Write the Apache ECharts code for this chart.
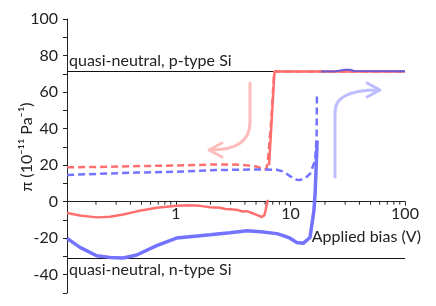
<!DOCTYPE html>
<html>
<head>
<meta charset="utf-8">
<script src="https://cdn.jsdelivr.net/npm/echarts@6/dist/echarts.min.js"></script>
<style>html,body{margin:0;padding:0;background:#fff}#c{width:436px;height:306px}</style>
</head>
<body>
<div id="c"></div>
<script>
// Data (Applied bias in V, pi in 1e-11 Pa^-1)
const redSolid = [[0.112,-6.2],[0.145,-7.6],[0.203,-8.6],[0.265,-8.3],[0.346,-7.0],[0.454,-5.3],[0.678,-3.3],[1.01,-2.2],[1.3,-2.0],[1.62,-2.3],[1.98,-3.0],[2.42,-3.3],[2.7,-4.0],[2.96,-4.2],[3.5,-4.6],[3.8,-5.4],[4.15,-5.2],[4.6,-6.2],[5.07,-7.2],[5.6,-8.4],[5.9,-7.5],[6.05,-5.0],[6.2,-1.5],[6.35,1.0],[6.4,'-'],[6.5,20],[6.9,48],[7.25,71.2],[100,71.2]];
const redDashed = [[0.112,18.8],[0.2,19.0],[0.5,19.5],[1.01,19.8],[2.0,20.3],[2.96,20.4],[4.0,20.0],[5.07,19.2],[5.5,18.4],[5.75,17.8],[6.15,17.8],[6.35,22.5],[6.8,45],[7.2,71.2],[100,71.2]];
const blueDashed = [[0.112,14.6],[0.203,15.2],[0.454,15.9],[1.01,16.4],[2.0,17.2],[2.96,17.4],[5.0,17.6],[7.58,17.5],[8.65,16.5],[9.91,14.0],[11.3,12.0],[12.1,11.8],[13.5,13.0],[14.8,15.2],[16.4,22.5],[16.9,35],[17.0,58]];
const blueSolid = [[0.112,-20.1],[0.145,-25.0],[0.203,-29.6],[0.265,-30.5],[0.346,-30.8],[0.454,-29.2],[0.678,-24.1],[1.01,-19.9],[1.62,-18.6],[1.98,-18.1],[2.96,-17.0],[4.15,-15.9],[5.5,-16.5],[7.58,-17.5],[8.65,-18.6],[9.91,-20.0],[11.3,-22.3],[12.9,-22.8],[14.8,-19.6],[16.0,-5.0],[16.4,4.4],[17.1,33.4]];
const blueTop = [[18.5,71.3],[25,71.4],[30,72.2],[33,72.2],[36,71.5],[100,71.4]];
const pTypeLevel = 71.2;
const nTypeLevel = -31.2;
const xMajorLabels = [1, 10, 100];
const xMinorTicks = [0.2,0.3,0.4,0.5,0.6,0.7,0.8,0.9,2,3,4,5,6,7,8,9,20,30,40,50,60,70,80,90];
const yLabelValues = [-40,-20,0,20,40,60,80,100];

const FONT = 'Lato';
const RED = '#ff6f6f';
const BLUE = '#7373ff';
const Y_MIN = -50, Y_MAX = 100;
const GRID = {left: 67, right: 31, top: 19, bottom: 13};
const plotH = 306 - GRID.top - GRID.bottom;
// x axis crosses the y axis at value 0: shift it up from the grid bottom
const xAxisOffset = -plotH * (0 - Y_MIN) / (Y_MAX - Y_MIN);

const chart = echarts.init(document.getElementById('c'), null, {renderer:'canvas'});
chart.setOption({
  animation: false,
  backgroundColor: '#fff',
  textStyle: {fontFamily: FONT},
  grid: Object.assign({containLabel: false, outerBoundsMode: 'none'}, GRID),
  xAxis: {
    type: 'log', logBase: 10, min: 0.1117, max: 100,
    position: 'bottom', offset: xAxisOffset,
    axisLine: {onZero: false, lineStyle: {color: '#222', width: 1}},
    axisTick: {show: true, inside: false, length: 4, lineStyle: {color: '#222'}},
    splitLine: {show: false},
    axisLabel: {
      fontFamily: FONT, fontSize: 16, color: '#222', margin: 4,
      formatter: v => { const r = Math.round(v * 1000) / 1000; return xMajorLabels.indexOf(r) >= 0 ? String(r) : ''; }
    },
    name: 'Applied bias (V)', nameLocation: 'end', nameGap: 16, nameMoveOverlap: false,
    nameTextStyle: {fontFamily: FONT, fontSize: 16, color: '#222', align: 'right', verticalAlign: 'top', padding: [27, 0, 0, 0]}
  },
  yAxis: {
    type: 'value', min: Y_MIN, max: Y_MAX, interval: 10,
    axisLine: {show: true, onZero: false, lineStyle: {color: '#222', width: 1}},
    axisTick: {show: true, inside: false, length: 4, lineStyle: {color: '#222'}},
    splitLine: {show: false},
    axisLabel: {
      fontFamily: FONT, fontSize: 16, color: '#222', margin: 9,
      formatter: v => yLabelValues.indexOf(v) >= 0 ? String(v) : ''
    },
    name: 'π (10⁻¹¹ Pa⁻¹)', nameLocation: 'middle', nameGap: 32, nameRotate: 90, nameMoveOverlap: false,
    nameTextStyle: {fontFamily: FONT, fontSize: 16, color: '#222', padding: [0, 0, 0, 18]}
  },
  series: [
    {
      type: 'line', data: [], silent: true, z: 1,
      markLine: {
        silent: true, symbol: 'none', animation: false, z: 1,
        lineStyle: {color: '#111', width: 1, type: 'solid'},
        label: {show: true, fontFamily: FONT, fontSize: 16, color: '#222', distance: [2, 3]},
        data: [
          {yAxis: pTypeLevel, label: {position: 'insideStartTop', formatter: 'quasi-neutral, p-type Si'}},
          {yAxis: nTypeLevel, label: {position: 'insideStartBottom', formatter: 'quasi-neutral, n-type Si'}}
        ]
      }
    },
    {
      type: 'custom', silent: true, z: 2, clip: false,
      data: xMinorTicks.map(v => [v, 0]),
      renderItem: (params, api) => {
        const p = api.coord([api.value(0), 0]);
        return {type: 'line', shape: {x1: p[0], y1: p[1], x2: p[0], y2: p[1] + 3}, style: {stroke: '#222', lineWidth: 1}};
      }
    },
    {type: 'line', name: 'red dashed', data: redDashed, showSymbol: false, connectNulls: false, z: 3,
     lineStyle: {color: RED, width: 2.5, type: [7, 4]}},
    {type: 'line', name: 'blue dashed', data: blueDashed, showSymbol: false, connectNulls: false, z: 3,
     lineStyle: {color: BLUE, width: 2.5, type: [7, 4]}},
    {type: 'line', name: 'red solid', data: redSolid, showSymbol: false, connectNulls: false, z: 4,
     lineStyle: {color: RED, width: 2.5}},
    {type: 'line', name: 'blue solid', data: blueSolid, showSymbol: false, connectNulls: false, z: 5,
     lineStyle: {color: BLUE, width: 3.5}},
    {type: 'line', name: 'blue top', data: blueTop, showSymbol: false, z: 5,
     lineStyle: {color: '#6a5ad8', width: 2}}
  ],
  graphic: [
    {type: 'line', shape: {x1: 250, y1: 83, x2: 250, y2: 122}, style: {stroke: '#ffbcbc', lineWidth: 3, lineCap: 'round'}, z: 10},
    {type: 'bezierCurve', shape: {x1: 250, y1: 122, cpx1: 250, cpy1: 150, x2: 211, y2: 150}, style: {stroke: '#ffbcbc', lineWidth: 3, fill: null, lineCap: 'round'}, z: 10},
    {type: 'polyline', shape: {points: [[222, 143], [209, 150], [222, 157]]}, style: {stroke: '#ffbcbc', lineWidth: 3, fill: null, lineCap: 'round', lineJoin: 'round'}, z: 10},
    {type: 'line', shape: {x1: 335, y1: 177, x2: 335, y2: 112}, style: {stroke: '#bdbdff', lineWidth: 3, lineCap: 'round'}, z: 10},
    {type: 'bezierCurve', shape: {x1: 335, y1: 112, cpx1: 335, cpy1: 90, x2: 378, y2: 90}, style: {stroke: '#bdbdff', lineWidth: 3, fill: null, lineCap: 'round'}, z: 10},
    {type: 'polyline', shape: {points: [[367, 83], [380, 90], [367, 97]]}, style: {stroke: '#bdbdff', lineWidth: 3, fill: null, lineCap: 'round', lineJoin: 'round'}, z: 10}
  ]
});
</script>
</body>
</html>
